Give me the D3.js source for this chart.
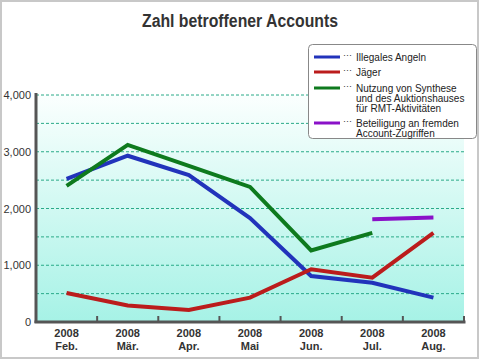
<!DOCTYPE html>
<html><head><meta charset="utf-8">
<script src="https://cdn.jsdelivr.net/npm/d3@7/dist/d3.min.js"></script>
<style>body{margin:0;background:#fff;}svg{display:block;font-family:"Liberation Sans",Arial,sans-serif;}</style>
</head><body><svg id="c" width="480" height="360"></svg>
<script>
const months = ["Feb.","Mär.","Apr.","Mai","Jun.","Jul.","Aug."];
const years = ["2008","2008","2008","2008","2008","2008","2008"];
const illegalesAngeln = [2520, 2930, 2590, 1830, 810, 690, 430];
const jaeger = [510, 290, 210, 430, 930, 780, 1570];
const synthese = [2400, 3120, 2750, 2380, 1260, 1570, null];
const beteiligung = [null, null, null, null, null, 1810, 1840];
const yTicks = [0, 1000, 2000, 3000, 4000];
const seriesNames = ["Illegales Angeln","Jäger","Nutzung von Synthese|und des Auktionshauses|für RMT-Aktivitäten","Beteiligung an fremden|Account-Zugriffen"];
const seriesColors = ["#2233bb","#bb1c1c","#0e7a1e","#8a11c8"];

const svg = d3.select("#c");
svg.append("rect").attr("x",1).attr("y",1).attr("width",477).attr("height",357)
  .attr("fill","#fff").attr("stroke","#c8c8c8").attr("stroke-width",2);

svg.append("text").attr("x",240).attr("y",27).attr("text-anchor","middle")
  .attr("font-size",18).attr("font-weight","bold").attr("fill","#333")
  .attr("textLength",196).attr("lengthAdjust","spacingAndGlyphs")
  .text("Zahl betroffener Accounts");

const L = 36, R = 464, T = 95, B = 322;
const x = d3.scaleBand().domain(months).range([L, R]);
const y = d3.scaleLinear().domain([0, 4000]).range([B, T]);

const defs = svg.append("defs");
const g = defs.append("linearGradient").attr("id","bg").attr("x1",0).attr("y1",0).attr("x2",0).attr("y2",1);
g.append("stop").attr("offset","0%").attr("stop-color","#fbfffe");
g.append("stop").attr("offset","100%").attr("stop-color","#a6f2e6");
svg.append("rect").attr("x",L).attr("y",T).attr("width",R-L).attr("height",B-T).attr("fill","url(#bg)");

// grid
d3.range(500, 4001, 500).forEach(v => {
  svg.append("line").attr("x1",L).attr("x2",R).attr("y1",y(v)).attr("y2",y(v))
    .attr("stroke","#2aaa88").attr("stroke-width",1).attr("stroke-dasharray","3,2");
});

// y axis
const yAxis = svg.append("g").attr("transform",`translate(${L},0)`)
  .call(d3.axisLeft(y).tickValues(yTicks).tickFormat(d3.format(",")).tickSize(0).tickPadding(5));
yAxis.select(".domain").remove();
yAxis.selectAll("text").attr("font-size",11).attr("fill","#333").attr("font-family","Liberation Sans, Arial, sans-serif");
svg.append("line").attr("x1",L).attr("x2",L).attr("y1",T-2).attr("y2",B+1).attr("stroke","#555").attr("stroke-width",3);

// x axis
const xAxis = svg.append("g").attr("transform",`translate(0,${B})`)
  .call(d3.axisBottom(x).tickSize(0).tickFormat(""));
xAxis.select(".domain").remove();
svg.append("line").attr("x1",L-1.5).attr("x2",R+1.5).attr("y1",B).attr("y2",B).attr("stroke","#555").attr("stroke-width",3);
months.forEach((m,i) => {
  const bx = x(m) + x.bandwidth();
  svg.append("line").attr("x1",bx).attr("x2",bx).attr("y1",B).attr("y2",B-6).attr("stroke","#555").attr("stroke-width",2);
  const cx = x(m) + x.bandwidth()/2;
  const t = svg.append("text").attr("x",cx).attr("y",B+15).attr("text-anchor","middle")
    .attr("font-size",11).attr("font-weight","bold").attr("fill","#333");
  t.append("tspan").attr("x",cx).text(years[i]);
  t.append("tspan").attr("x",cx).attr("dy",13).text(m);
});

// lines
const line = d3.line().defined(d => d.v != null).x(d => x(d.m) + x.bandwidth()/2).y(d => y(d.v));
[illegalesAngeln, jaeger, synthese, beteiligung].forEach((arr, k) => {
  const data = arr.map((v,i) => ({m: months[i], v}));
  svg.append("path").datum(data).attr("d", line).attr("fill","none")
    .attr("stroke", seriesColors[k]).attr("stroke-width",4).attr("stroke-linejoin","miter");
});

// legend
svg.append("rect").attr("x",308.5).attr("y",44.5).attr("width",168).attr("height",94).attr("rx",4)
  .attr("fill","#fff").attr("stroke","#888").attr("stroke-width",1);
const rowY = [57, 72, 88, 123];
seriesNames.forEach((name, k) => {
  const yy = rowY[k];
  svg.append("line").attr("x1",314).attr("x2",340).attr("y1",yy).attr("y2",yy)
    .attr("stroke",seriesColors[k]).attr("stroke-width",3);
  svg.append("text").attr("x",343).attr("y",yy+1).attr("font-size",9).attr("fill","#333").text("···");
  const t = svg.append("text").attr("x",356).attr("y",yy+3.5).attr("font-size",10).attr("fill","#222");
  name.split("|").forEach((s, j) => {
    t.append("tspan").attr("x",356).attr("dy", j===0?0:10.3).text(s);
  });
});
</script></body></html>
